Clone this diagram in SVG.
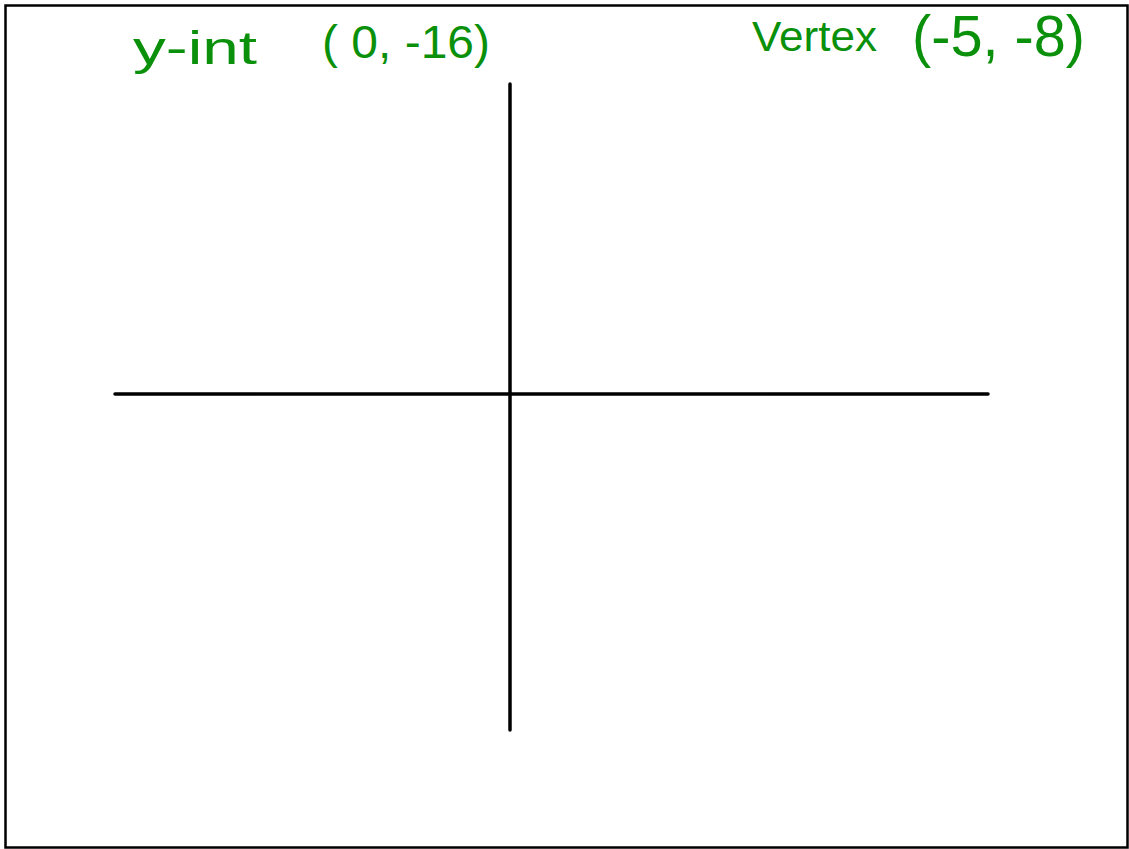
<svg xmlns="http://www.w3.org/2000/svg" width="1129" height="849" viewBox="0 0 1129 849">
<style>
.ink{fill:#0a900a;font-family:"Liberation Sans","DejaVu Sans",sans-serif;}
.axis{stroke:#000;stroke-width:3.5;stroke-linecap:round;fill:none;}
</style>
<rect x="0" y="0" width="1129" height="849" fill="#fff"/>
<rect x="5.5" y="5.5" width="1122" height="842" fill="none" stroke="#000" stroke-width="2.5"/>
<g id="axes">
<line class="axis" x1="115" y1="394" x2="988" y2="394"/>
<line class="axis" x1="510" y1="84" x2="510" y2="730"/>
</g>
<g id="labels">
<text class="ink" x="133" y="64" font-size="46" textLength="124" lengthAdjust="spacingAndGlyphs">y-int</text>
<text class="ink" x="322" y="58" font-size="46" textLength="168" lengthAdjust="spacingAndGlyphs">( 0, -16)</text>
<text class="ink" x="752" y="51" font-size="42" textLength="125" lengthAdjust="spacingAndGlyphs">Vertex</text>
<text class="ink" x="912" y="56" font-size="58" textLength="173" lengthAdjust="spacingAndGlyphs">(-5, -8)</text>
</g>
</svg>
